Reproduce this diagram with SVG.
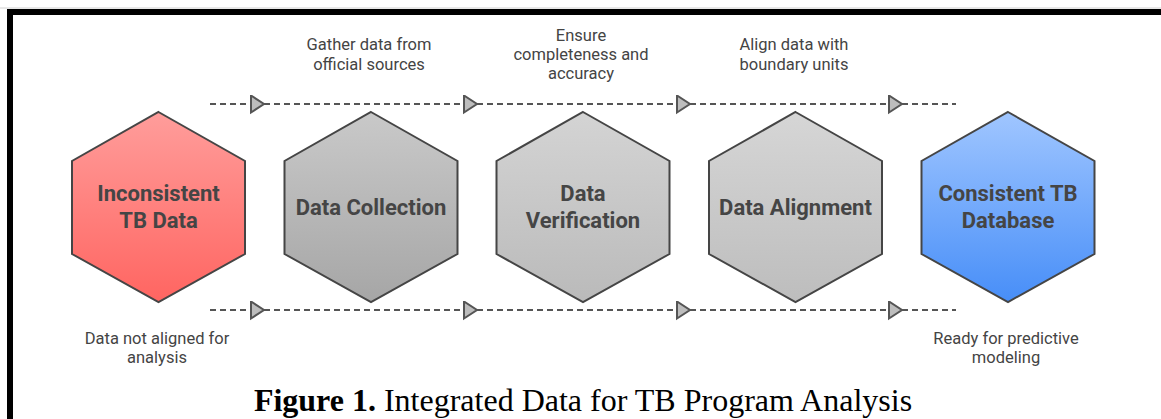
<svg xmlns="http://www.w3.org/2000/svg" width="1161" height="419" viewBox="0 0 1161 419">
<style>
.hex{stroke:#454545;stroke-width:2;stroke-linejoin:miter}
.hl{font-family:Roboto,"Liberation Sans",sans-serif;font-weight:700;font-size:22px;fill:#454545;text-anchor:middle}
.ann{font-family:Roboto,"Liberation Sans",sans-serif;font-size:16.5px;fill:#444;text-anchor:middle}
.conn{stroke:#555;stroke-width:2;stroke-dasharray:6 4;fill:none}
.cap{font-family:"Liberation Serif","Times New Roman",serif;font-size:32px;fill:#000;text-anchor:middle}
</style>
<defs>
<linearGradient id="gRed" x1="0" y1="0" x2="0" y2="1"><stop offset="0" stop-color="#ff9d9b"/><stop offset="1" stop-color="#ff6561"/></linearGradient>
<linearGradient id="gG1" x1="0" y1="0" x2="0" y2="1"><stop offset="0" stop-color="#c9c9c9"/><stop offset="1" stop-color="#a6a6a6"/></linearGradient>
<linearGradient id="gG2" x1="0" y1="0" x2="0" y2="1"><stop offset="0" stop-color="#d4d4d4"/><stop offset="1" stop-color="#bababa"/></linearGradient>
<linearGradient id="gG3" x1="0" y1="0" x2="0" y2="1"><stop offset="0" stop-color="#d6d6d6"/><stop offset="1" stop-color="#bdbdbd"/></linearGradient>
<linearGradient id="gBlue" x1="0" y1="0" x2="0" y2="1"><stop offset="0" stop-color="#a0c6ff"/><stop offset="1" stop-color="#478ef8"/></linearGradient>
<marker id="tri" markerUnits="userSpaceOnUse" markerWidth="16" markerHeight="20" refX="14" refY="9.5" orient="auto" viewBox="0 0 16 20">
<path d="M1,1 L14,9.5 L1,18 Z" fill="#bdbdbd" stroke="#555" stroke-width="2" stroke-linejoin="miter"/>
</marker>
</defs>
<rect width="1161" height="419" fill="#fff"/>
<line x1="0" y1="8" x2="1161" y2="8" stroke="#d0d0d0" stroke-width="1"/>
<path d="M10,419 L10,12 L1161,12" fill="none" stroke="#000" stroke-width="6"/>

<g id="connectors">
<line class="conn" x1="210" y1="104" x2="264" y2="104" marker-end="url(#tri)"/>
<line class="conn" x1="264" y1="104" x2="477" y2="104" marker-end="url(#tri)"/>
<line class="conn" x1="477" y1="104" x2="690" y2="104" marker-end="url(#tri)"/>
<line class="conn" x1="690" y1="104" x2="902" y2="104" marker-end="url(#tri)"/>
<line class="conn" x1="902" y1="104" x2="956" y2="104"/>
<line class="conn" x1="210" y1="310" x2="264" y2="310" marker-end="url(#tri)"/>
<line class="conn" x1="264" y1="310" x2="477" y2="310" marker-end="url(#tri)"/>
<line class="conn" x1="477" y1="310" x2="690" y2="310" marker-end="url(#tri)"/>
<line class="conn" x1="690" y1="310" x2="902" y2="310" marker-end="url(#tri)"/>
<line class="conn" x1="902" y1="310" x2="956" y2="310"/>
</g>

<g id="ann-labels">
<text class="ann" x="369" y="50">Gather data from</text>
<text class="ann" x="369" y="69.5">official sources</text>
<text class="ann" x="581" y="41">Ensure</text>
<text class="ann" x="581" y="60">completeness and</text>
<text class="ann" x="581" y="79">accuracy</text>
<text class="ann" x="794" y="50">Align data with</text>
<text class="ann" x="794" y="69.5">boundary units</text>
<text class="ann" x="157" y="344">Data not aligned for</text>
<text class="ann" x="157" y="363">analysis</text>
<text class="ann" x="1006" y="344">Ready for predictive</text>
<text class="ann" x="1006" y="363">modeling</text>
</g>

<g id="node-inconsistent">
<polygon class="hex" fill="url(#gRed)" points="158.5,112 245,161 245,254 158.5,302 72,254 72,161"/>
<text class="hl" x="158.5" y="201">Inconsistent</text>
<text class="hl" x="158.5" y="227.5">TB Data</text>
</g>
<g id="node-collection">
<polygon class="hex" fill="url(#gG1)" points="371,112 457.5,161 457.5,254 371,302 284.5,254 284.5,161"/>
<text class="hl" x="371" y="214.5">Data Collection</text>
</g>
<g id="node-verification">
<polygon class="hex" fill="url(#gG2)" points="583,112 669.5,161 669.5,254 583,302 496.5,254 496.5,161"/>
<text class="hl" x="583" y="201">Data</text>
<text class="hl" x="583" y="227.5">Verification</text>
</g>
<g id="node-alignment">
<polygon class="hex" fill="url(#gG3)" points="795.5,112 882,161 882,254 795.5,302 709,254 709,161"/>
<text class="hl" x="795.5" y="214.5">Data Alignment</text>
</g>
<g id="node-consistent">
<polygon class="hex" fill="url(#gBlue)" points="1008,112 1094.5,161 1094.5,254 1008,302 921.5,254 921.5,161"/>
<text class="hl" x="1008" y="201">Consistent TB</text>
<text class="hl" x="1008" y="227.5">Database</text>
</g>

<text class="cap" x="583" y="411"><tspan font-weight="700">Figure 1.</tspan> Integrated Data for TB Program Analysis</text>
</svg>
